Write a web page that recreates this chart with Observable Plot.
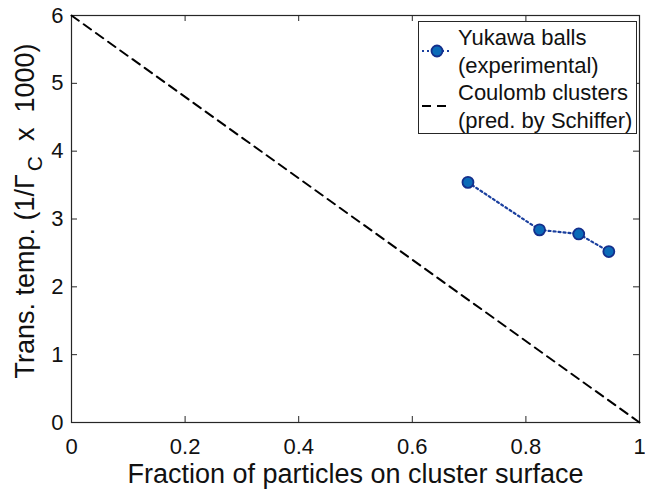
<!DOCTYPE html>
<html>
<head>
<meta charset="utf-8">
<script src="https://cdn.jsdelivr.net/npm/d3@7"></script>
<script src="https://cdn.jsdelivr.net/npm/@observablehq/plot@0.6"></script>
<style>
  html, body { margin: 0; padding: 0; background: white; }
  #chart { position: relative; width: 645px; height: 492px; }
</style>
</head>
<body>
<div id="chart"></div>
<script>
// Yukawa balls, experimental transition temperatures
const surfaceFraction = [0.698, 0.824, 0.893, 0.946];
const transTemp = [3.54, 2.84, 2.78, 2.52];

// Coulomb clusters, prediction by Schiffer
const schifferFraction = [0, 1];
const schifferTemp = [6, 0];

// Axis ticks
const xTicks = [0, 0.2, 0.4, 0.6, 0.8, 1];
const yTicks = [0, 1, 2, 3, 4, 5, 6];

// Legend entries
const legendYukawa = ["Yukawa balls", "(experimental)"];
const legendCoulomb = ["Coulomb clusters", "(pred. by Schiffer)"];

const xLabel = "Fraction of particles on cluster surface";
const yLabelParts = ["Trans. temp. (1/\u0393", "C", "  x  1000)"];

const yukawa = surfaceFraction.map((x, i) => ({x, y: transTemp[i]}));
const coulomb = schifferFraction.map((x, i) => ({x, y: schifferTemp[i]}));

const W = 645, H = 492;
const mL = 71, mR = 6, mT = 15, mB = 70;
const innerW = W - mL - mR, innerH = H - mT - mB;
const tickLen = 6;
const axisColor = "#262626";
const font = "'Liberation Sans', Arial, sans-serif";
const lineBlue = "#1a3f9e", dotFill = "#0b6bb8", dotStroke = "#142f8c";
const Y_PLACEHOLDER = "__ylabel__";

const chart = Plot.plot({
  width: W, height: H,
  marginLeft: mL, marginRight: mR, marginTop: mT, marginBottom: mB,
  x: {domain: [0, 1]},
  y: {domain: [0, 6]},
  style: {fontFamily: font, background: "white", color: "#111", overflow: "visible"},
  marks: [
    Plot.frame({stroke: axisColor, strokeWidth: 1.2}),
    // inward ticks on all four sides
    Plot.tickX(xTicks, {x: d => d, insetTop: innerH - tickLen, stroke: axisColor}),
    Plot.tickX(xTicks, {x: d => d, insetBottom: innerH - tickLen, stroke: axisColor}),
    Plot.tickY(yTicks, {y: d => d, insetRight: innerW - tickLen, stroke: axisColor}),
    Plot.tickY(yTicks, {y: d => d, insetLeft: innerW - tickLen, stroke: axisColor}),
    Plot.axisX({ticks: xTicks, tickSize: 0, tickPadding: 16, fontSize: 22, label: null, tickFormat: d => String(d)}),
    Plot.axisY({ticks: yTicks, tickSize: 0, tickPadding: 8, fontSize: 22, label: null, tickFormat: d => String(d)}),
    Plot.line(coulomb, {x: "x", y: "y", stroke: "black", strokeWidth: 2, strokeDasharray: "9,6"}),
    Plot.line(yukawa, {x: "x", y: "y", stroke: lineBlue, strokeWidth: 2.2, strokeDasharray: "2,3"}),
    Plot.dot(yukawa, {x: "x", y: "y", r: 5.5, fill: dotFill, stroke: dotStroke, strokeWidth: 1.8}),
    Plot.text([xLabel], {frameAnchor: "bottom", dy: 60, fontSize: 27, fill: "#111"}),
    Plot.text([Y_PLACEHOLDER], {frameAnchor: "left", textAnchor: "middle", dx: -46, dy: -8, rotate: -90, fontSize: 27, fill: "#111"})
  ]
});

document.getElementById("chart").appendChild(chart);

// y label with subscript C
const svg = d3.select(chart);
const yl = svg.selectAll("text").filter(function() { return this.textContent === Y_PLACEHOLDER; });
yl.text(null).style("white-space", "pre").attr("text-anchor", "middle");
yl.append("tspan").text(yLabelParts[0]);
yl.append("tspan").attr("font-size", 21).attr("dy", 8).attr("dx", 3).text(yLabelParts[1]);
yl.append("tspan").attr("dy", -8).text(yLabelParts[2]);

// legend box
const lg = svg.append("g").attr("font-family", font).attr("font-size", 22)
  .attr("fill", "#111").attr("text-anchor", "start");
lg.append("rect").attr("x", 418.5).attr("y", 21.5).attr("width", 218).attr("height", 112)
  .attr("fill", "white").attr("stroke", axisColor).attr("stroke-width", 1);
const textX = 458;
const baselines = [45, 73, 100, 128];
[...legendYukawa, ...legendCoulomb].forEach((t, i) => {
  lg.append("text").attr("x", textX).attr("y", baselines[i]).text(t);
});
// Yukawa swatch
lg.append("line").attr("x1", 422).attr("x2", 452).attr("y1", 51).attr("y2", 51)
  .attr("stroke", lineBlue).attr("stroke-width", 2.2).attr("stroke-dasharray", "2,3");
lg.append("circle").attr("cx", 437).attr("cy", 51).attr("r", 5.5)
  .attr("fill", dotFill).attr("stroke", dotStroke).attr("stroke-width", 1.8);
// Coulomb swatch
lg.append("line").attr("x1", 422).attr("x2", 451).attr("y1", 106).attr("y2", 106)
  .attr("stroke", "black").attr("stroke-width", 2).attr("stroke-dasharray", "9,6");
</script>
</body>
</html>
